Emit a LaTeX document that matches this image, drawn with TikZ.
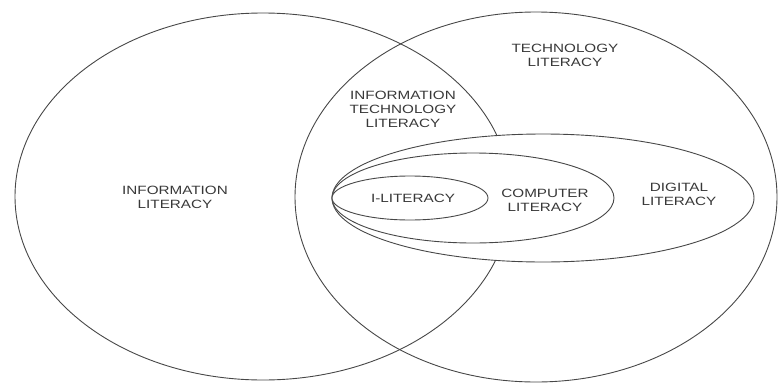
\documentclass[tikz,border=0pt]{standalone}
\usepackage{fontspec}
\newfontfamily\lblfont{Liberation Sans}[FakeStretch=1.27]
\begin{document}
\begin{tikzpicture}[x=1pt,y=-1pt,
  ring/.style={draw=black!72,line width=0.9pt},
  inner ring/.style={ring,fill=white},
  lbl/.style={align=center,text=black!78,inner sep=0pt,
    font=\lblfont\fontsize{12}{14}\selectfont}]
\useasboundingbox (0,0) rectangle (782,383);
% the two large overlapping fields
\draw[ring] (263,196.5) ellipse [x radius=248,y radius=183.5];
\draw[ring] (536,197) ellipse [x radius=241,y radius=185];
% nested fields sharing their left end
\draw[inner ring] (543,198) ellipse [x radius=211,y radius=64];
\draw[inner ring] (473,198) ellipse [x radius=141,y radius=45];
\draw[inner ring] (410,198) ellipse [x radius=78,y radius=22];
% labels
\node[lbl] (info) at (175,197) {INFORMATION\\LITERACY};
\node[lbl] (tech) at (565,55) {TECHNOLOGY\\LITERACY};
\node[lbl] (infotech) at (403,109) {INFORMATION\\TECHNOLOGY\\LITERACY};
\node[lbl] (digital) at (679,194) {DIGITAL\\LITERACY};
\node[lbl] (computer) at (545,200) {COMPUTER\\LITERACY};
\node[lbl] (iliteracy) at (413,198) {I-LITERACY};
\end{tikzpicture}
\end{document}
